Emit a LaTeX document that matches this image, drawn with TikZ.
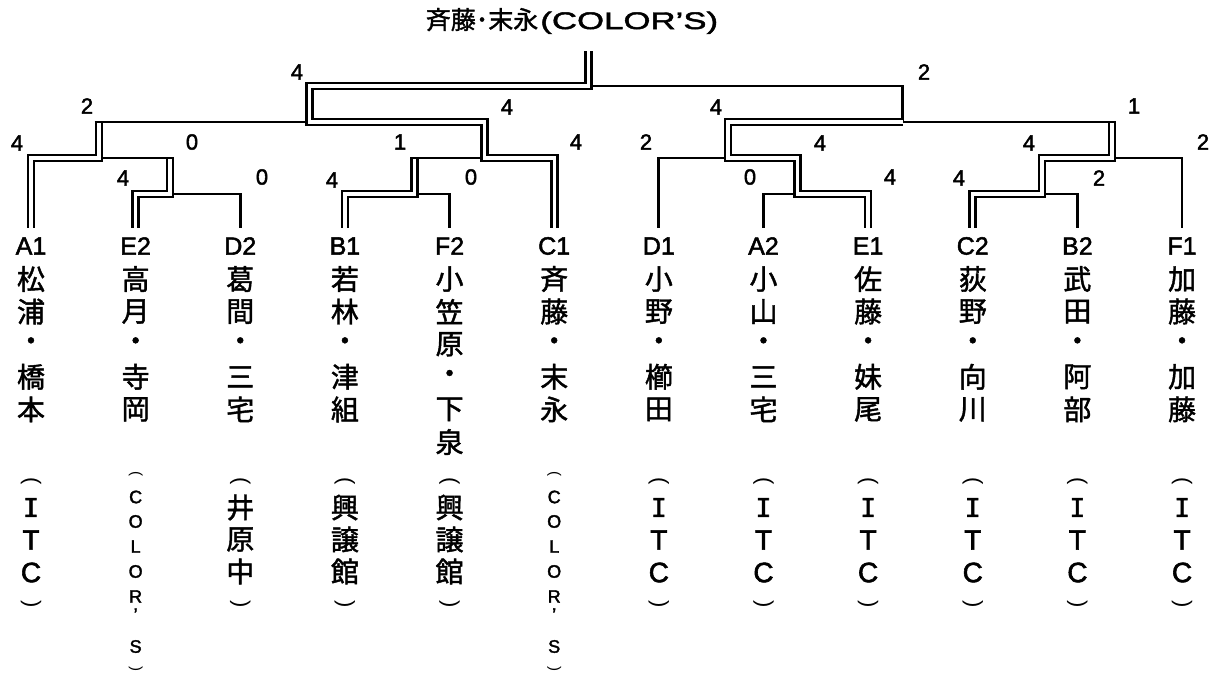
\documentclass[tikz,border=0pt]{standalone}
\usepackage{fontspec}
\setmainfont[FakeBold=2]{Liberation Sans}
\newfontfamily\jp[FakeBold=1.5]{Noto Sans CJK JP}
\newfontfamily\widefont[FakeStretch=1.45,FakeBold=2]{Liberation Sans}
\newfontfamily\monoI[FakeBold=2]{DejaVu Sans Mono}
\newfontfamily\parfont{Liberation Sans}
\begin{document}
\begin{tikzpicture}[x=1pt,y=-1pt,
  single/.style={line width=2.7pt, line join=miter, line cap=butt},
  dbl/.style={line width=2.7pt, double=white, double distance=3.3pt, line join=miter, line cap=butt},
  score/.style={font=\fontsize{22}{22}\selectfont, inner sep=0pt},
  code/.style={font=\fontsize{25}{25}\selectfont, inner sep=0pt},
  nm/.style={font=\jp\fontsize{28}{28}\selectfont, inner sep=0pt},
  orglat/.style={font=\fontsize{28}{28}\selectfont, inner sep=0pt},
  orgsm/.style={font=\fontsize{18}{18}\selectfont, inner sep=0pt},
  opar/.style={font=\parfont\fontsize{22}{22}\selectfont, inner sep=0pt, rotate=-90},
  cpar/.style={font=\parfont\fontsize{22}{22}\selectfont, inner sep=0pt, rotate=-90},
  oparsm/.style={font=\parfont\fontsize{15}{15}\selectfont, inner sep=0pt, rotate=-90}]
\useasboundingbox (0,0) rectangle (1220,676);
\fill[white] (0,0) rectangle (1220,676);

% title
\node[inner sep=0pt, font=\fontsize{25}{25}\selectfont] (title) at (572,21)
  {{\jp 斉藤･末永}\hspace{2pt}{\widefont\fontsize{24}{24}\selectfont(COLOR’S)}};

% leaf tops
\foreach \id/\i in {A1/0,E2/1,D2/2,B1/3,F2/4,C1/5,D1/6,A2/7,E1/8,C2/9,B2/10,F1/11}
  \coordinate (L\id) at ({31+104.64*\i},228);

% junctions
\coordinate (r1a) at (170,194);
\coordinate (r1b) at (414.5,194);
\coordinate (r1c) at (797.5,194);
\coordinate (r1d) at (1042,194);
\coordinate (qa) at (99,158);
\coordinate (qb) at (484.5,158);
\coordinate (qc) at (728,158);
\coordinate (qd) at (1112,158);
\coordinate (sa) at (309.5,122);
\coordinate (sb) at (902.5,122);
\coordinate (fin) at (588.3,86);
\coordinate (top) at (588.3,51);
\coordinate (qaR) at (174.35,158);
\coordinate (qbL) at (410.15,158);
\coordinate (saL) at (94.65,122);
\coordinate (sbR) at (1116.35,122);

% single lines
\draw[single] (LD2) |- (r1a);
\draw[single] (LF2) |- (r1b);
\draw[single] (LA2) |- (r1c);
\draw[single] (LB2) |- (r1d);
\draw[single] (LD1) |- (qc);
\draw[single] (LF1) |- (qd);
\draw[single] (qa) -- (qaR);
\draw[single] (qbL) -- (qb);
\draw[single] (saL) -- (sa);
\draw[single] (fin) -| (sb) -- (sbR);

% winner (double) lines
\draw[dbl] (LA1) |- (qa) -- ++(0,-34.65);
\draw[dbl] (LE2) |- (r1a) -- ++(0,-34.65);
\draw[dbl] (LB1) |- (r1b) -- ++(0,-34.65);
\draw[dbl] (LC1) |- (qb) |- (sa) |- (fin) -- (top);
\draw[dbl] (LE1) |- (r1c) |- (qc) |- (sb);
\draw[dbl] (LC2) |- (r1d) |- (qd) -- ++(0,-34.65);

% scores
\node[score] (sf1) at (297,72) {4};
\node[score] (sf2) at (924,72) {2};
\node[score] (ss1) at (87,106) {2};
\node[score] (ss2) at (507,107) {4};
\node[score] (ss3) at (716,107) {4};
\node[score] (ss4) at (1134,106) {1};
\node[score] (sq1) at (17,143) {4};
\node[score] (sq2) at (192,142) {0};
\node[score] (sq3) at (400,142) {1};
\node[score] (sq4) at (576,142) {4};
\node[score] (sq5) at (646,142) {2};
\node[score] (sq6) at (820,143) {4};
\node[score] (sq7) at (1029,143) {4};
\node[score] (sq8) at (1203,142) {2};
\node[score] (sr1) at (123,178) {4};
\node[score] (sr2) at (262,177) {0};
\node[score] (sr3) at (332,180) {4};
\node[score] (sr4) at (471,177) {0};
\node[score] (sr5) at (750,177) {0};
\node[score] (sr6) at (890,177) {4};
\node[score] (sr7) at (959,178) {4};
\node[score] (sr8) at (1099,178) {2};

% codes and names
\foreach \id/\i/\nms in {
  A1/0/{松,浦,・,橋,本},
  E2/1/{高,月,・,寺,岡},
  D2/2/{葛,間,・,三,宅},
  B1/3/{若,林,・,津,組},
  F2/4/{小,笠,原,・,下,泉},
  C1/5/{斉,藤,・,末,永},
  D1/6/{小,野,・,櫛,田},
  A2/7/{小,山,・,三,宅},
  E1/8/{佐,藤,・,妹,尾},
  C2/9/{荻,野,・,向,川},
  B2/10/{武,田,・,阿,部},
  F1/11/{加,藤,・,加,藤}} {
  \node[code] (c\id) at ({31+104.64*\i},246) {\id};
  \foreach \ch [count=\k] in \nms
    \node[nm] (n\id-\k) at ({31+104.64*\i},{279+32.6*(\k-1)}) {\ch};
}

% ITC clubs
\foreach \id/\i in {A1/0,D1/6,A2/7,E1/8,C2/9,B2/10,F1/11} {
  \node[opar] (o\id-1) at ({31+104.64*\i},481) {(};
  \node[inner sep=0pt, font=\monoI\fontsize{26}{26}\selectfont] (o\id-2) at ({31+104.64*\i},507.5) {I};
  \node[orglat] (o\id-3) at ({31+104.64*\i},540) {T};
  \node[orglat] (o\id-4) at ({31+104.64*\i},572.5) {C};
  \node[cpar] (o\id-5) at ({31+104.64*\i},604) {)};
}
% kanji clubs
\foreach \id/\i/\a/\b/\c in {D2/2/井/原/中, B1/3/興/譲/館, F2/4/興/譲/館} {
  \node[opar] (o\id-1) at ({31+104.64*\i},481) {(};
  \node[nm] (o\id-2) at ({31+104.64*\i},507.5) {\a};
  \node[nm] (o\id-3) at ({31+104.64*\i},539.5) {\b};
  \node[nm] (o\id-4) at ({31+104.64*\i},571.5) {\c};
  \node[cpar] (o\id-5) at ({31+104.64*\i},604) {)};
}
% COLOR'S clubs
\foreach \id/\i in {E2/1,C1/5} {
  \node[oparsm] (o\id-1) at ({31+104.64*\i},474) {(};
  \foreach \ch/\yy [count=\k from 2] in {C/497,O/521.5,L/546.5,O/571.5,R/596.5,’/614.5,S/646.5}
    \node[orgsm] (o\id-\k) at ({31+104.64*\i},\yy) {\ch};
  \node[oparsm] (o\id-9) at ({31+104.64*\i},669) {)};
}
\end{tikzpicture}
\end{document}
